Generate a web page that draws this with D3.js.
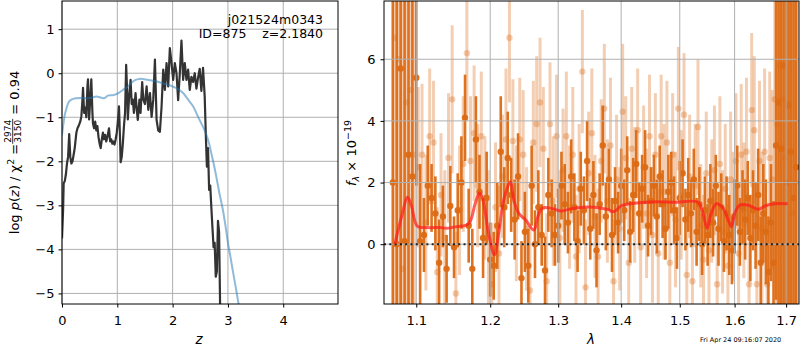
<!DOCTYPE html>
<html>
<head>
<meta charset="utf-8">
<script src="https://cdn.jsdelivr.net/npm/d3@7"></script>
<style>
  body { margin: 0; background: #fff; }
  text { font-family: "DejaVu Sans", sans-serif; }
</style>
</head>
<body>
<script>
// ---- p(z) panel data ----
var pzZ = [0.00,0.02,0.03,0.05,0.07,0.09,0.11,0.13,0.15,0.17,0.19,0.21,0.23,0.26,0.28,0.30,0.33,0.35,0.37,0.38,0.40,0.42,0.44,0.46,0.47,0.49,0.51,0.53,0.55,0.56,0.58,0.60,0.62,0.64,0.66,0.68,0.70,0.72,0.74,0.76,0.78,0.80,0.82,0.85,0.87,0.89,0.91,0.93,0.95,0.97,0.99,1.01,1.03,1.05,1.06,1.08,1.10,1.12,1.14,1.16,1.18,1.19,1.21,1.24,1.26,1.28,1.30,1.33,1.35,1.37,1.40,1.42,1.45,1.47,1.50,1.53,1.56,1.59,1.62,1.65,1.68,1.71,1.74,1.77,1.80,1.83,1.86,1.89,1.92,1.95,1.98,2.01,2.04,2.07,2.10,2.13,2.16,2.19,2.22,2.25,2.28,2.31,2.34,2.37,2.40,2.43,2.46,2.49,2.52,2.55,2.58,2.60,2.62,2.64,2.66,2.68,2.70,2.72,2.74,2.76,2.78,2.80,2.82,2.84,2.86];
var pzLog = [-3.75,-3.1,-2.5,-2.45,-2.3,-2.05,-1.9,-1.38,-1.9,-2.05,-2.0,-1.85,-1.7,-1.35,-1.25,-1.2,-1.1,-0.98,-0.6,-0.33,-0.9,-0.78,-1.0,-0.3,-0.14,-1.05,-0.6,-0.14,-0.9,-1.14,-1.25,-1.1,-1.3,-1.2,-1.45,-1.6,-1.7,-1.5,-1.35,-1.5,-1.4,-1.55,-1.45,-1.25,-1.55,-1.5,-1.6,-1.55,-1.62,-1.5,-1.35,-1.1,-0.75,-1.5,-2.02,-1.9,-1.6,-1.2,-0.9,0.19,-0.5,-1.05,-0.6,-0.15,-0.7,-0.6,-0.9,-0.45,-0.8,-1.06,-0.6,-0.9,-0.2,-0.6,-0.7,-0.3,-0.83,-0.45,-0.99,-0.6,0.31,-1.06,-1.3,-1.33,-0.76,0.08,-0.38,0.23,-0.3,0.57,0.23,-0.15,0.23,0.0,-0.61,0.0,0.74,-0.15,0.23,-0.15,0.08,-0.38,-0.08,-0.2,0.0,-0.35,-0.1,0.1,-0.4,0.12,-0.53,-1.4,-2.12,-1.7,-2.65,-2.55,-3.05,-3.5,-3.95,-3.85,-4.62,-4.5,-3.35,-3.6,-5.4];
var priorZ = [0.0,0.02,0.05,0.08,0.12,0.17,0.25,0.35,0.45,0.55,0.62,0.70,0.76,0.83,0.90,0.95,1.02,1.10,1.19,1.27,1.33,1.40,1.46,1.55,1.65,1.75,1.85,1.98,2.10,2.19,2.28,2.37,2.46,2.55,2.61,2.66,2.70,2.75,2.79,2.85,2.91,2.96,3.00,3.05,3.09,3.14,3.20];
var priorLog = [-1.4,-1.2,-0.95,-0.8,-0.66,-0.6,-0.57,-0.56,-0.57,-0.55,-0.53,-0.55,-0.57,-0.51,-0.5,-0.49,-0.45,-0.38,-0.30,-0.2,-0.15,-0.13,-0.13,-0.15,-0.17,-0.2,-0.24,-0.29,-0.36,-0.45,-0.6,-0.75,-0.99,-1.22,-1.4,-1.6,-1.82,-2.1,-2.35,-2.75,-3.11,-3.5,-3.85,-4.2,-4.5,-4.85,-5.3];
var zTicks = [0,1,2,3,4];
var logTicks = [-5,-4,-3,-2,-1,0,1];

// ---- spectrum panel data ----
var waveA = [1.070,1.075,1.080,1.085,1.090,1.095,1.100,1.105,1.110,1.115,1.120,1.125,1.130,1.135,1.140,1.145,1.150,1.155,1.160,1.165,1.170,1.175,1.180,1.185,1.190,1.195,1.200,1.205,1.210,1.215,1.220,1.225,1.230,1.235,1.240,1.245,1.250,1.255,1.260,1.265,1.270,1.275,1.280,1.285,1.290,1.295,1.300,1.305,1.310,1.315,1.320,1.325,1.330,1.335,1.340,1.345,1.350,1.355,1.360,1.365,1.370,1.375,1.380,1.385,1.390,1.395,1.400,1.405,1.410,1.415,1.420,1.425,1.430,1.435,1.440,1.445,1.450,1.455,1.460,1.465,1.470,1.475,1.480,1.485,1.490,1.495,1.500,1.505,1.510,1.515,1.520,1.525,1.530,1.535,1.540,1.545,1.550,1.555,1.560,1.565,1.570,1.575,1.580,1.585,1.590,1.595,1.600,1.605,1.610,1.615,1.620,1.625,1.630,1.635,1.640,1.645,1.650,1.655,1.660,1.665,1.670,1.675,1.680,1.685,1.690,1.695,1.700,1.705,1.710,1.715,1.720];
var fluxA = [2.0,0.0,5.7,0.1,2.9,2.2,5.4,0.1,0.3,1.9,1.5,1.0,-0.6,0.9,-0.8,1.24,-0.1,1.1,2.0,4.1,0.6,-0.8,3.4,1.7,0.2,1.5,-0.5,-0.7,0.6,3.0,1.2,2.8,1.6,0.8,2.2,-1.1,0.4,-0.7,1.9,0.0,1.2,0.3,-0.85,1.6,1.0,0.3,0.6,1.9,1.3,0.7,2.2,1.2,0.1,1.8,1.1,2.7,0.5,1.6,-0.2,1.3,3.2,0.9,2.1,0.3,1.4,0.7,1.9,1.1,2.4,0.4,1.6,2.6,1.0,1.8,2.5,0.6,1.4,1.9,0.9,2.2,1.3,0.5,1.7,2.0,1.1,0.2,1.5,2.3,0.8,1.6,1.0,2.1,0.4,1.3,0.0,1.1,0.3,1.4,0.7,1.9,0.5,1.2,0.1,1.0,0.3,-0.2,0.9,1.9,0.4,1.2,0.8,1.5,0.2,1.1,0.6,1.6,-0.6,1.0,0.4,-0.9,0.7,-0.6,3.2,4.6,3.1,5.8,2.0,4.5,3.0,1.5,2.5];
var errA = [9,9,9,9,9,8,3.5,2.5,1.2,1.3,1.1,1.2,1.4,1.0,1.1,1.3,1.0,1.2,1.5,1.4,1.2,1.3,1.4,1.2,1.3,1.5,1.2,1.1,1.4,1.8,1.3,1.5,1.2,1.3,1.4,1.2,1.3,1.2,1.3,1.1,1.2,1.0,1.1,1.2,1.1,1.0,1.2,1.1,1.3,1.0,1.2,1.1,1.0,1.2,1.1,1.3,1.0,1.1,1.2,1.0,1.3,1.1,1.0,1.2,1.1,1.0,1.2,1.0,1.1,1.0,1.2,1.1,1.0,1.1,1.2,1.0,1.1,1.0,1.2,1.0,1.1,1.0,1.2,1.0,1.1,1.0,1.2,1.1,1.0,1.2,1.1,1.0,1.1,1.2,1.0,1.1,1.0,1.2,1.1,1.0,1.2,1.1,1.0,1.2,1.3,1.1,1.2,1.3,1.1,1.2,1.3,1.2,1.4,1.3,1.4,1.5,1.5,1.6,1.7,1.8,1.9,2.0,5,9,9,9,9,9,9,9,9];

var waveB = [1.0725,1.0775,1.0825,1.0875,1.0925,1.0975,1.1025,1.1075,1.1125,1.1175,1.1225,1.1275,1.1325,1.1375,1.1425,1.1475,1.1525,1.1575,1.1625,1.1675,1.1725,1.1775,1.1825,1.1875,1.1925,1.1975,1.2025,1.2075,1.2125,1.2175,1.2225,1.2275,1.2325,1.2375,1.2425,1.2475,1.2525,1.2575,1.2625,1.2675,1.2725,1.2775,1.2825,1.2875,1.2925,1.2975,1.3025,1.3075,1.3125,1.3175,1.3225,1.3275,1.3325,1.3375,1.3425,1.3475,1.3525,1.3575,1.3625,1.3675,1.3725,1.3775,1.3825,1.3875,1.3925,1.3975,1.4025,1.4075,1.4125,1.4175,1.4225,1.4275,1.4325,1.4375,1.4425,1.4475,1.4525,1.4575,1.4625,1.4675,1.4725,1.4775,1.4825,1.4875,1.4925,1.4975,1.5025,1.5075,1.5125,1.5175,1.5225,1.5275,1.5325,1.5375,1.5425,1.5475,1.5525,1.5575,1.5625,1.5675,1.5725,1.5775,1.5825,1.5875,1.5925,1.5975,1.6025,1.6075,1.6125,1.6175,1.6225,1.6275,1.6325,1.6375,1.6425,1.6475,1.6525,1.6575,1.6625,1.6675,1.6725,1.6775,1.6825,1.6875,1.6925,1.6975,1.7025,1.7075,1.7125,1.7175,1.7225];
var fluxB = [6.7,6.0,-0.8,4.6,5.0,2.9,2.5,2.9,0.7,3.5,3.3,-0.9,1.6,0.2,2.8,4.7,-1.6,1.1,2.6,6.2,2.7,3.6,1.9,3.5,1.5,0.2,-1.3,1.2,-0.3,2.2,3.4,6.7,3.35,1.0,3.4,2.9,0.5,-1.5,3.3,3.9,4.6,3.1,-1.2,3.9,1.4,3.5,0.2,2.4,3.5,1.2,2.9,-0.4,1.8,5.6,-1.4,2.3,3.6,0.9,-0.4,2.7,4.4,1.4,3.2,-1.2,2.1,0.5,4.3,2.8,-0.6,3.1,1.6,3.7,-0.1,2.5,1.0,3.5,0.3,2.9,-0.3,3.5,1.7,3.3,-0.6,2.9,0.8,4.4,1.6,4.2,-1.0,2.2,-1.2,1.9,3.8,0.6,-0.5,2.3,-0.2,1.4,2.4,-1.3,2.6,0.4,1.8,-0.7,2.1,0.9,2.7,-0.3,2.9,1.1,3.0,-1.3,4.35,3.7,-1.3,2.7,0.5,3.0,-1.3,2.8,2.1,4.7,3.9,5.8,4.7,2.8,4.6,3.0,1.0,2.0,2.5];
var errB = [9,9,9,9,9,6,2.6,2.3,2.2,2.2,2.0,2.1,2.0,2.2,2.1,2.4,2.0,2.1,2.2,2.0,2.1,2.2,2.0,2.1,2.0,2.2,2.0,2.1,2.2,2.0,2.3,2.1,2.0,2.2,2.0,2.1,2.0,2.1,2.0,2.2,2.1,2.0,2.2,2.0,2.1,2.0,2.2,2.0,2.1,2.0,2.2,2.0,2.1,2.0,2.2,2.0,2.1,2.0,2.2,2.0,2.1,2.0,2.2,2.0,2.1,2.0,2.2,2.0,2.1,2.0,2.2,2.0,2.1,2.0,2.1,2.0,2.2,2.0,2.1,2.0,2.2,2.0,2.1,2.0,2.2,2.0,2.1,2.0,2.2,2.0,2.1,2.0,2.2,2.0,2.1,2.0,2.2,2.0,2.1,2.0,2.2,2.0,2.1,2.0,2.2,2.1,2.2,2.1,2.3,2.2,2.4,2.3,2.5,2.4,2.5,2.6,2.5,2.7,2.6,2.8,2.9,9,9,9,9,9,9,9,9,9,9];

var modelWave = [1.0726,1.0812,1.0889,1.0940,1.1013,1.1136,1.1313,1.1403,1.1538,1.1698,1.1791,1.1851,1.1898,1.1977,1.2059,1.2121,1.2193,1.2290,1.2338,1.2411,1.2509,1.2633,1.2693,1.2759,1.2885,1.3038,1.3245,1.3561,1.3778,1.3886,1.3996,1.4217,1.4616,1.4906,1.5324,1.5415,1.5489,1.5567,1.5659,1.5785,1.5878,1.5940,1.6003,1.6098,1.6289,1.6452,1.6581,1.6778,1.7032];
var modelFlux = [0.0,0.9,1.52,1.22,0.59,0.54,0.54,0.52,0.57,0.66,1.33,1.67,1.44,0.36,-0.35,0.36,1.44,2.03,1.44,1.0,0.79,0.46,0.9,1.17,1.17,1.08,1.17,1.2,1.13,1.06,1.24,1.33,1.38,1.36,1.36,1.0,0.52,1.0,1.31,1.17,0.79,0.57,1.0,1.27,1.25,1.13,1.24,1.31,1.31];
var waveTicks = [1.1,1.2,1.3,1.4,1.5,1.6,1.7];
var fluxTicks = [0,2,4,6];

var svg = d3.select("body").append("svg")
    .attr("width", 800)
    .attr("height", 350);

var gridColor = "#b0b0b0";
var fs = 13;

// ================= left panel =================
var L = {x0: 62, x1: 338, y0: 1, y1: 304};
var xL = d3.scaleLinear().domain([0, 4.99]).range([L.x0, L.x1]);
var yL = d3.scaleLinear().domain([-5.24, 1.64]).range([L.y1, L.y0]);

svg.append("clipPath").attr("id", "clipL")
  .append("rect").attr("x", L.x0).attr("y", L.y0).attr("width", L.x1 - L.x0).attr("height", L.y1 - L.y0);

var gl = svg.append("g");
zTicks.forEach(function(t) {
  gl.append("line").attr("x1", xL(t)).attr("x2", xL(t)).attr("y1", L.y0).attr("y2", L.y1)
    .attr("stroke", gridColor).attr("stroke-width", 1);
});
logTicks.forEach(function(t) {
  gl.append("line").attr("x1", L.x0).attr("x2", L.x1).attr("y1", yL(t)).attr("y2", yL(t))
    .attr("stroke", gridColor).attr("stroke-width", 1);
});

var lineL = d3.line().x(function(d) { return xL(d[0]); }).y(function(d) { return yL(d[1]); });

svg.append("path")
  .attr("d", lineL(d3.zip(pzZ, pzLog)))
  .attr("clip-path", "url(#clipL)")
  .attr("fill", "none").attr("stroke", "#333").attr("stroke-width", 2.2)
  .attr("stroke-linejoin", "round");

svg.append("path")
  .attr("d", lineL.curve(d3.curveCatmullRom)(d3.zip(priorZ, priorLog)))
  .attr("clip-path", "url(#clipL)")
  .attr("fill", "none").attr("stroke", "#1f77b4").attr("stroke-opacity", 0.5).attr("stroke-width", 2);

svg.append("g").attr("transform", "translate(0," + L.y1 + ")")
  .call(d3.axisBottom(xL).tickValues(zTicks).tickSize(3.5).tickPadding(8).tickFormat(d3.format("d")));
svg.append("g").attr("transform", "translate(" + L.x0 + ",0)")
  .call(d3.axisLeft(yL).tickValues(logTicks).tickSize(3.5).tickPadding(4).tickFormat(function(d) { return d < 0 ? "\u2212" + Math.abs(d) : d; }));

svg.append("rect").attr("x", L.x0).attr("y", L.y0).attr("width", L.x1 - L.x0).attr("height", L.y1 - L.y0)
  .attr("fill", "none").attr("stroke", "black").attr("stroke-width", 1);

svg.append("text").attr("x", 323).attr("y", 24).attr("text-anchor", "end")
  .attr("font-size", 12.5).text("j021524m0343");
svg.append("text").attr("x", 323).attr("y", 38).attr("text-anchor", "end")
  .attr("font-size", 12.5).style("white-space", "pre").text("ID=875    z=2.1840");

svg.append("text").attr("x", 199).attr("y", 344).attr("text-anchor", "middle")
  .attr("font-size", 13.5).attr("font-style", "italic").text("z");

// y label with fraction
var yl = svg.append("g");
var t1 = yl.append("text").attr("font-size", fs);
t1.append("tspan").text("log ");
t1.append("tspan").attr("font-style", "italic").text("p");
t1.append("tspan").text("(");
t1.append("tspan").attr("font-style", "italic").text("z");
t1.append("tspan").text(") / \u03c7");
t1.append("tspan").attr("font-size", 9.5).attr("dy", -5).text("2");
t1.append("tspan").attr("dy", 5).text(" = ");
var w1 = t1.node().getComputedTextLength();
var num = yl.append("text").attr("font-size", 9).attr("text-anchor", "middle").attr("y", -8.5).text("2974");
var den = yl.append("text").attr("font-size", 9).attr("text-anchor", "middle").attr("y", 1.8).text("3150");
var wf = Math.max(num.node().getComputedTextLength(), den.node().getComputedTextLength()) + 2;
num.attr("x", w1 + wf / 2);
den.attr("x", w1 + wf / 2);
yl.append("line").attr("x1", w1).attr("x2", w1 + wf).attr("y1", -6.3).attr("y2", -6.3)
  .attr("stroke", "black").attr("stroke-width", 0.8);
var t3 = yl.append("text").attr("font-size", fs).attr("x", w1 + wf).style("white-space", "pre").text(" = 0.94");
var wTot = w1 + wf + t3.node().getComputedTextLength();
yl.attr("transform", "translate(19,152.5) rotate(-90) translate(" + (-wTot / 2) + ",0)");

// ================= right panel =================
var R = {x0: 384, x1: 799, y0: 1, y1: 304};
var xR = d3.scaleLog().domain([1.059, 1.726]).range([R.x0, R.x1]);
var yR = d3.scaleLinear().domain([-1.94, 7.89]).range([R.y1, R.y0]);

svg.append("clipPath").attr("id", "clipR")
  .append("rect").attr("x", R.x0).attr("y", R.y0).attr("width", R.x1 - R.x0).attr("height", R.y1 - R.y0);

var gr = svg.append("g").attr("clip-path", "url(#clipR)");
var orange = "#dc6a14";

var specB = d3.zip(waveB, fluxB, errB);
var specA = d3.zip(waveA, fluxA, errA);

gr.selectAll(".barB").data(specB).enter().append("line")
  .attr("x1", function(d) { return xR(d[0]); }).attr("x2", function(d) { return xR(d[0]); })
  .attr("y1", function(d) { return yR(d[1] - d[2]); }).attr("y2", function(d) { return yR(d[1] + d[2]); })
  .attr("stroke", orange).attr("stroke-opacity", 0.33).attr("stroke-width", 3);
gr.selectAll(".dotB").data(specB).enter().append("circle")
  .attr("cx", function(d) { return xR(d[0]); }).attr("cy", function(d) { return yR(d[1]); })
  .attr("r", 3.2).attr("fill", orange).attr("fill-opacity", 0.33);

gr.selectAll(".barA").data(specA).enter().append("line")
  .attr("x1", function(d) { return xR(d[0]); }).attr("x2", function(d) { return xR(d[0]); })
  .attr("y1", function(d) { return yR(d[1] - d[2]); }).attr("y2", function(d) { return yR(d[1] + d[2]); })
  .attr("stroke", orange).attr("stroke-opacity", 0.95).attr("stroke-width", 2.6);
gr.selectAll(".dotA").data(specA).enter().append("circle")
  .attr("cx", function(d) { return xR(d[0]); }).attr("cy", function(d) { return yR(d[1]); })
  .attr("r", 3.2).attr("fill", orange).attr("fill-opacity", 0.95);

waveTicks.forEach(function(t) {
  svg.append("line").attr("x1", xR(t)).attr("x2", xR(t)).attr("y1", R.y0).attr("y2", R.y1)
    .attr("stroke", gridColor).attr("stroke-width", 1);
});
fluxTicks.forEach(function(t) {
  svg.append("line").attr("x1", R.x0).attr("x2", R.x1).attr("y1", yR(t)).attr("y2", yR(t))
    .attr("stroke", gridColor).attr("stroke-width", 1);
});

svg.append("line").attr("x1", R.x0).attr("x2", R.x1).attr("y1", yR(0)).attr("y2", yR(0))
  .attr("stroke", "black").attr("stroke-opacity", 0.85).attr("stroke-width", 2)
  .attr("stroke-dasharray", "2,3.3");

var lineR = d3.line().curve(d3.curveCatmullRom)
  .x(function(d) { return xR(d[0]); }).y(function(d) { return yR(d[1]); });
svg.append("path")
  .attr("d", lineR(d3.zip(modelWave, modelFlux)))
  .attr("clip-path", "url(#clipR)")
  .attr("fill", "none").attr("stroke", "#ff1a1a").attr("stroke-opacity", 0.7).attr("stroke-width", 3);

svg.append("g").attr("transform", "translate(0," + R.y1 + ")")
  .call(d3.axisBottom(xR).tickValues(waveTicks).tickSize(3.5).tickPadding(8).tickFormat(d3.format(".1f")));
svg.append("g").attr("transform", "translate(" + R.x0 + ",0)")
  .call(d3.axisLeft(yR).tickValues(fluxTicks).tickSize(3.5).tickPadding(5).tickFormat(d3.format("d")));

svg.append("rect").attr("x", R.x0).attr("y", R.y0).attr("width", R.x1 - R.x0).attr("height", R.y1 - R.y0)
  .attr("fill", "none").attr("stroke", "black").attr("stroke-width", 1);

svg.append("text").attr("x", 591).attr("y", 344).attr("text-anchor", "middle")
  .attr("font-size", 13.5).attr("font-style", "italic").text("\u03bb");

var yr = svg.append("text").attr("font-size", fs).attr("text-anchor", "middle")
  .attr("transform", "translate(356,153) rotate(-90)");
yr.append("tspan").attr("font-style", "italic").text("f");
yr.append("tspan").attr("font-style", "italic").attr("font-size", 9.5).attr("dy", 3).text("\u03bb");
yr.append("tspan").attr("dy", -3).text(" \u00d7 10");
yr.append("tspan").attr("font-size", 9.5).attr("dy", -5.5).text("\u221219");

svg.append("text").attr("x", 700).attr("y", 342).attr("font-size", 6.5).text("Fri Apr 24 09:16:07 2020");

// axis styling
svg.selectAll(".tick text").attr("font-size", fs).attr("font-family", "DejaVu Sans").attr("fill", "black");
svg.selectAll(".domain").remove();
svg.selectAll(".tick line").attr("stroke", "black");
</script>
</body>
</html>
